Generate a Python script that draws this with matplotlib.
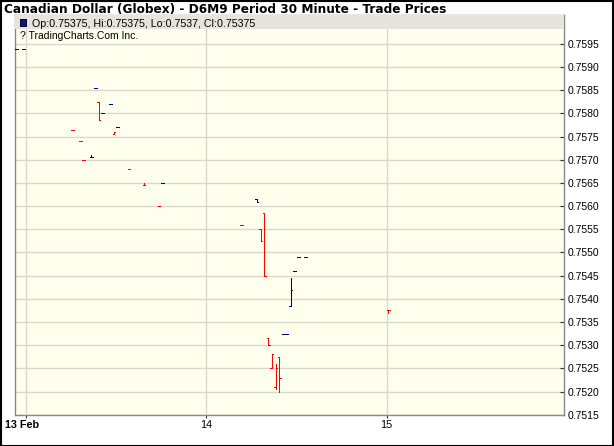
import matplotlib
matplotlib.use("Agg")
import matplotlib.pyplot as plt
from matplotlib.patches import Rectangle
from matplotlib.transforms import ScaledTranslation

# ---- data (hours since 13 Feb 00:00, bar centres) ----
hours = [-1.25, -0.25, 6.25, 7.25, 7.75, 8.75, 9.25, 9.75, 10.25, 11.25,
         11.75, 12.25, 13.75, 15.75, 17.75, 18.25, 28.75, 30.75, 31.25, 31.75,
         32.25, 32.75, 33.25, 33.75, 34.25, 34.75, 35.25, 35.75, 36.25, 37.25,
         48.25]
opens = [0.7594, 0.7594, 0.75765, 0.7574, 0.7570, 0.75705, 0.75855, 0.75825, 0.7580, 0.7582,
         0.75755, 0.7577, 0.7568, 0.75645, 0.7560, 0.7565, 0.7556, 0.75615, 0.7555, 0.75585,
         0.75315, 0.7525, 0.7521, 0.75275, 0.75325, 0.75325, 0.75385, 0.7546, 0.7549, 0.7549,
         0.75375]
highs = [0.7594, 0.7594, 0.75765, 0.7574, 0.7570, 0.7571, 0.75855, 0.75825, 0.7580, 0.7582,
         0.7576, 0.7577, 0.7568, 0.7565, 0.7560, 0.7565, 0.7556, 0.75615, 0.7555, 0.75585,
         0.75315, 0.7528, 0.7526, 0.75275, 0.75325, 0.75325, 0.75445, 0.7546, 0.7549, 0.7549,
         0.75375]
lows = [0.7594, 0.7594, 0.75765, 0.7574, 0.7570, 0.75705, 0.75855, 0.75785, 0.7580, 0.7582,
        0.75755, 0.7577, 0.7568, 0.75645, 0.7560, 0.7565, 0.7556, 0.7561, 0.75525, 0.7545,
        0.7530, 0.7525, 0.75205, 0.7520, 0.75325, 0.75325, 0.75385, 0.7546, 0.7549, 0.7549,
        0.7537]
closes = [0.7594, 0.7594, 0.75765, 0.7574, 0.7570, 0.75705, 0.75855, 0.75785, 0.7580, 0.7582,
          0.7576, 0.7577, 0.7568, 0.75645, 0.7560, 0.7565, 0.7556, 0.7561, 0.75525, 0.7545,
          0.7530, 0.7528, 0.7525, 0.7523, 0.75325, 0.75325, 0.7542, 0.7546, 0.7549, 0.7549,
          0.75375]

x_tick_pos = [0, 24, 48]
x_tick_labels = ["13 Feb", "14", "15"]
y_ticks = [0.7515, 0.7520, 0.7525, 0.7530, 0.7535, 0.7540, 0.7545, 0.7550, 0.7555,
           0.7560, 0.7565, 0.7570, 0.7575, 0.7580, 0.7585, 0.7590, 0.7595]

title = "Canadian Dollar (Globex) - D6M9 Period 30 Minute - Trade Prices"
legend_text = "Op:0.75375, Hi:0.75375, Lo:0.7537, Cl:0.75375"
credit_text = "? TradingCharts.Com Inc."

UP = "#000080"
DOWN = "#FF0000"

plt.rcParams["font.family"] = ["Liberation Sans", "DejaVu Sans"]

W, H = 614, 446
fig = plt.figure(figsize=(W / 100, H / 100), dpi=100)
fig.patch.set_facecolor("white")

L, R, T, B = 15.3, 563.6, 15.0, 414.7
ax = fig.add_axes([L / W, 1 - B / H, (R - L) / W, (B - T) / H])
ax.set_facecolor("#FFFFEE")
ax.set_xlim(-1.37, 71.55)
ax.set_ylim(0.751526, 0.760124)

ax.set_yticks(y_ticks)
ax.set_yticklabels(["%.4f" % v for v in y_ticks])
ax.set_xticks(x_tick_pos)
ax.set_xticklabels(x_tick_labels)
ax.grid(True, color="#D8D8CC", lw=1.0, zorder=0)
ax.set_axisbelow(True)

for s in ax.spines.values():
    s.set_color("#888888")
    s.set_linewidth(1.0)

ax.yaxis.tick_right()
ax.tick_params(axis="y", which="both", direction="in", length=3, width=0.8,
               colors="#333333", labelcolor="black", labelsize=7.5, pad=3,
               left=False, right=True)
ax.tick_params(axis="x", direction="out", length=2, width=0.8, colors="#333333",
               labelcolor="black", labelsize=7.8, pad=1.5)
lbls = ax.get_xticklabels()
lbls[0].set_fontweight("bold")
lbls[0].set_transform(lbls[0].get_transform() + ScaledTranslation(-4 / 100, 0, fig.dpi_scale_trans))

# OHLC bars
cols = []
prev = None
for c in closes:
    cols.append(UP if (prev is None or c >= prev) else DOWN)
    prev = c
lw = 0.5
w = 0.19
c1 = ax.vlines(hours, lows, highs, colors=cols, lw=lw, zorder=3)
c2 = ax.hlines(opens, [h - w for h in hours], hours, colors=cols, lw=lw, zorder=3)
c3 = ax.hlines(closes, hours, [h + w for h in hours], colors=cols, lw=lw, zorder=3)
for c in (c1, c2, c3):
    c.set_antialiased(False)

# header band
band_h = 14.0 / (B - T)
ax.add_patch(Rectangle((0, 1 - band_h), 1, band_h, transform=ax.transAxes,
                       facecolor="#E5E5DE", edgecolor="none", zorder=4, clip_on=False))
fig.patches.append(Rectangle((19.5 / W, 1 - 25.5 / H), 6 / W, 6 / H, transform=fig.transFigure,
                             facecolor="#14147A", edgecolor="#000030", lw=0.7, zorder=5))
fig.text(32.5 / W, 1 - 26.7 / H, legend_text, fontsize=7.7, va="baseline", ha="left", zorder=6)
fig.text(19.5 / W, 1 - 39.2 / H, credit_text, fontsize=7.5, va="baseline", ha="left", zorder=6)

# title
fig.text(3.5 / W, 1 - 12.7 / H, title, fontsize=8.7, fontweight="bold", va="baseline", ha="left",
         family=["DejaVu Sans"])

# outer border
fig.patches.append(Rectangle((0.5 / W, 0.5 / H), (W - 1.5) / W, (H - 1.5) / H,
                             transform=fig.transFigure, facecolor="none",
                             edgecolor="black", lw=1.5, zorder=10))

fig.savefig("out.png", dpi=100, facecolor="white")
